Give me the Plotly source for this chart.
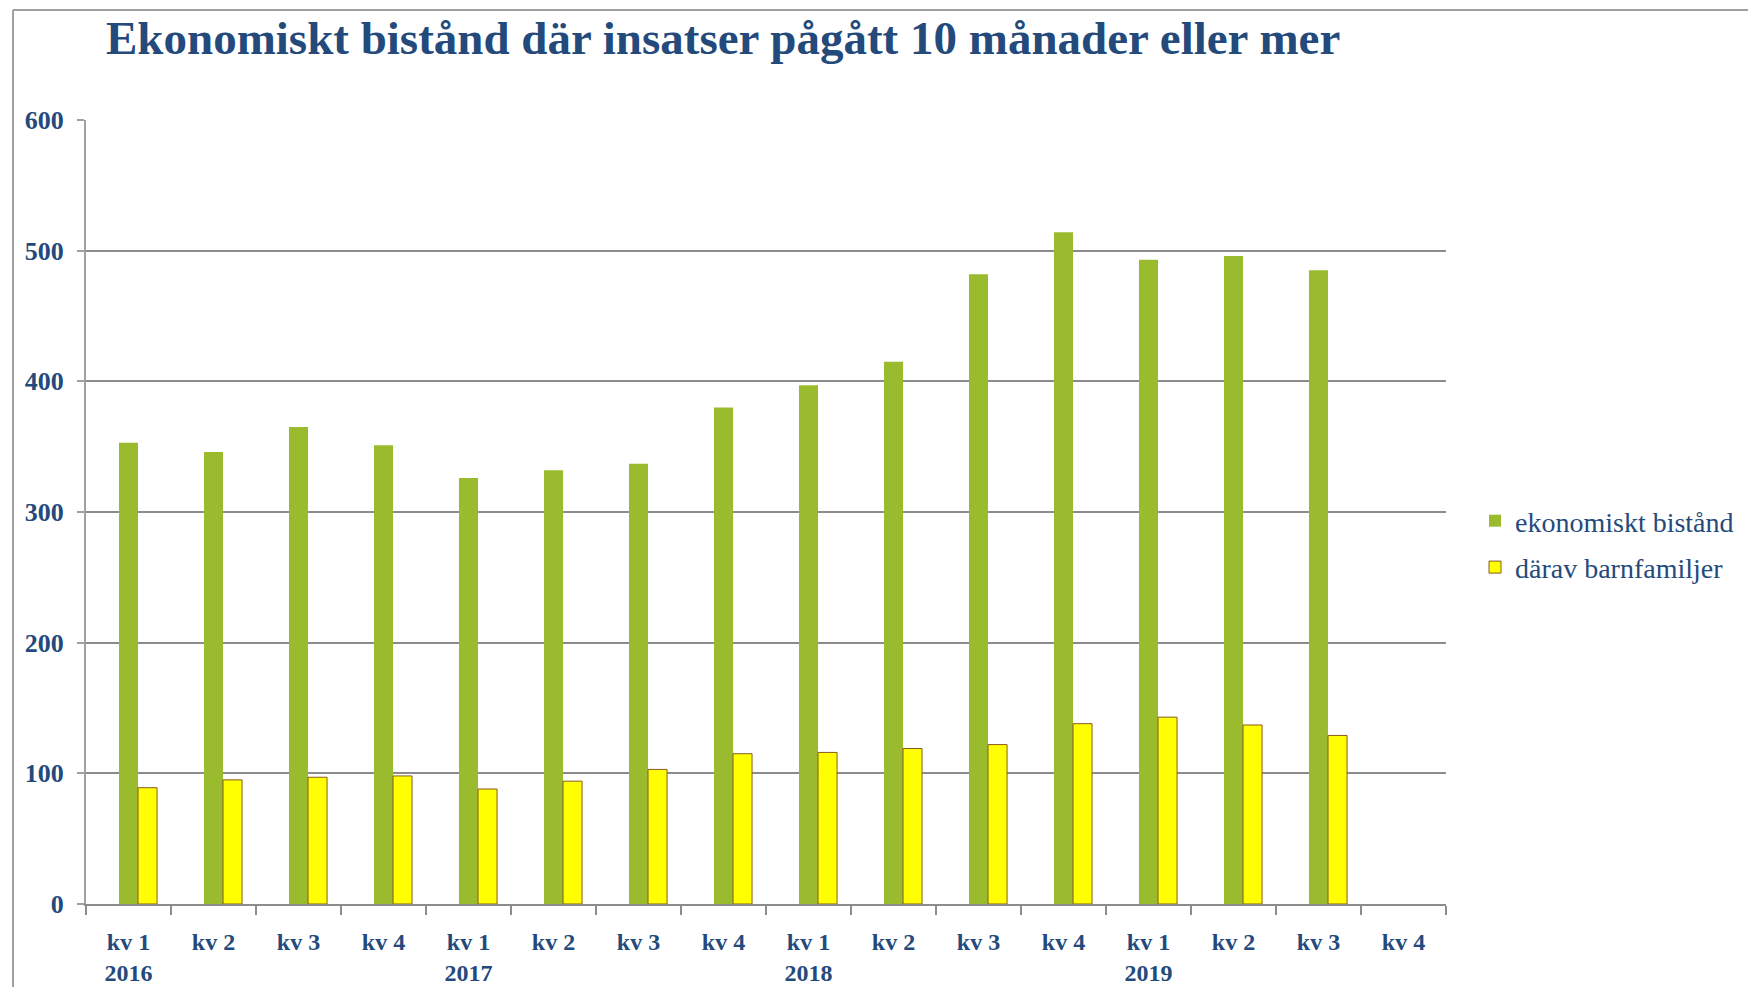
import plotly.graph_objects as go

# categories (unique keys) and the labels shown under the axis
categories = ["2016 kv 1", "2016 kv 2", "2016 kv 3", "2016 kv 4",
              "2017 kv 1", "2017 kv 2", "2017 kv 3", "2017 kv 4",
              "2018 kv 1", "2018 kv 2", "2018 kv 3", "2018 kv 4",
              "2019 kv 1", "2019 kv 2", "2019 kv 3", "2019 kv 4"]
tick_labels = ["kv 1<br>2016", "kv 2", "kv 3", "kv 4",
               "kv 1<br>2017", "kv 2", "kv 3", "kv 4",
               "kv 1<br>2018", "kv 2", "kv 3", "kv 4",
               "kv 1<br>2019", "kv 2", "kv 3", "kv 4"]

ekonomiskt_bistand = [353, 346, 365, 351, 326, 332, 337, 380,
                      397, 415, 482, 514, 493, 496, 485, None]
barnfamiljer = [89, 95, 97, 98, 88, 94, 103, 115,
                116, 119, 122, 138, 143, 137, 129, None]

TEXT = "#244A7C"
GRID = "#8C8C8C"
FONT = "Liberation Serif"

# the page body adds 8px, so the figure itself is 8px smaller each way
W, H = 1748, 979
OFF = 8

fig = go.Figure()
fig.add_trace(go.Bar(
    x=categories, y=ekonomiskt_bistand, name="ekonomiskt bistånd",
    marker=dict(color="#99BB2D", line=dict(width=0)),
    offset=-0.112, width=0.224, legendgroup="a",
))
fig.add_trace(go.Bar(
    x=categories, y=barnfamiljer, name="därav barnfamiljer",
    marker=dict(color="#FFFF00", line=dict(color="#8A5A1E", width=1)),
    offset=0.112, width=0.224, legendgroup="b",
))

# plot area on the page: x 86..1446, y 120..904
L, T = 86 - OFF, 120 - OFF
R = W - (1446 - OFF)
B = H - (904 - OFF)
pw, ph = W - L - R, H - T - B

def px_x(v):
    # page pixel -> paper x
    return (v - OFF - L) / pw

def px_y(v):
    # page pixel -> paper y
    return (H - B - (v - OFF)) / ph

# outer frame lines (left and top)
fig.add_shape(type="line", xref="paper", yref="paper",
              x0=px_x(13), x1=px_x(13), y0=px_y(10), y1=px_y(1000),
              line=dict(color="#A0A0A0", width=2))
fig.add_shape(type="line", xref="paper", yref="paper",
              x0=px_x(13), x1=px_x(1770), y0=px_y(10), y1=px_y(10),
              line=dict(color="#A0A0A0", width=2))

fig.update_layout(
    width=W, height=H,
    margin=dict(l=L, r=R, t=T, b=B, autoexpand=False),
    paper_bgcolor="white", plot_bgcolor="white",
    barmode="overlay",
    font=dict(family=FONT, color=TEXT, size=22),
    title=dict(
        text="<b>Ekonomiskt bistånd där insatser pågått 10 månader eller mer</b>",
        font=dict(family=FONT, size=47, color=TEXT),
        xref="container", yref="container",
        x=(106 - OFF) / W, xanchor="left", y=1 - (38 - OFF) / H, yanchor="middle",
    ),
    legend=dict(
        x=px_x(1475), xanchor="left", y=px_y(544), yanchor="middle",
        font=dict(family=FONT, size=28, color=TEXT),
        bgcolor="rgba(0,0,0,0)", itemwidth=30,
        traceorder="grouped", tracegroupgap=7,
    ),
)

fig.update_xaxes(
    type="category", tickmode="array", tickvals=categories,
    ticktext=["<b>" + t.replace("<br>", "</b><br><b>") + "</b>" for t in tick_labels],
    tickson="boundaries", ticks="outside", ticklen=9, tickwidth=2,
    tickcolor=GRID, showline=True, linecolor=GRID, linewidth=2,
    showgrid=False, ticklabelstandoff=15, automargin=False,
    tickfont=dict(family=FONT, size=24, color=TEXT),
    range=[-0.5, 15.5],
)
fig.update_yaxes(
    range=[0, 600], dtick=100, tickmode="linear",
    tickprefix="<b>", ticksuffix="</b>",
    ticks="outside", ticklen=7, tickwidth=2, tickcolor="#A0A0A0",
    showline=True, linecolor="#A0A0A0", linewidth=2,
    showgrid=True, gridcolor=GRID, gridwidth=2,
    zeroline=False, ticklabelstandoff=8, automargin=False,
    tickfont=dict(family=FONT, size=26, color=TEXT),
)

fig.write_html("out.html")
